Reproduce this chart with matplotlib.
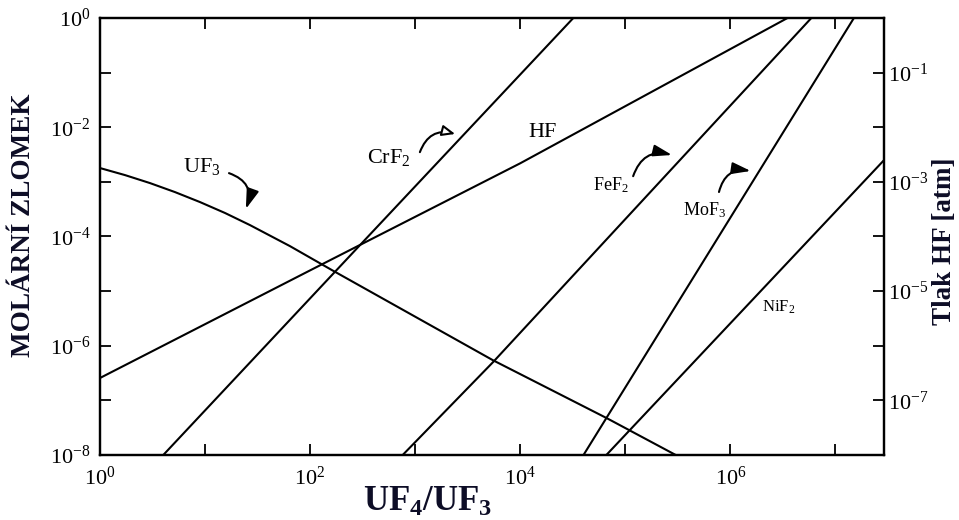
import numpy as np
import matplotlib.pyplot as plt

plt.rcParams['font.family'] = 'Liberation Serif'
plt.rcParams['mathtext.fontset'] = 'custom'
plt.rcParams['mathtext.rm'] = 'Liberation Serif'
plt.rcParams['mathtext.it'] = 'Liberation Serif:italic'
plt.rcParams['mathtext.bf'] = 'Liberation Serif:bold'

# mole fraction vs. UF4/UF3 ratio
uf3_x = [1, 1.73, 2.99, 5.17, 8.94, 15.5, 26.7, 64.2, 161, 5.48e3, 6.67e4, 3.02e5]
uf3_y = [1.79e-3, 1.33e-3, 9.5e-4, 6.5e-4, 4.27e-4, 2.69e-4, 1.62e-4, 6.67e-5,
         2.43e-5, 5.45e-7, 4.72e-8, 1e-8]

hf_x = [1, 100, 1e4, 3.5e6]
hf_y = [2.57e-7, 2.4e-5, 2.19e-3, 1.0]

crf2_x = [4.0, 282, 3.2e4]
crf2_y = [1e-8, 6.2e-5, 1.0]

fef2_x = [760, 5.5e3, 5.9e6]
fef2_y = [1e-8, 5.0e-7, 1.0]

mof3_x = [4.0e4, 1.5e7]
mof3_y = [1e-8, 1.0]

nif2_x = [6.6e4, 2.9e7]
nif2_y = [1e-8, 2.5e-3]

x_exp = np.arange(0, 8)
y_exp = np.arange(-8, 1)

fig = plt.figure(figsize=(9.59, 5.2), dpi=100)
ax = fig.add_axes([0.1043, 0.125, 0.8175, 0.8404])

for xs, ys in [(uf3_x, uf3_y), (hf_x, hf_y), (crf2_x, crf2_y),
               (fef2_x, fef2_y), (mof3_x, mof3_y), (nif2_x, nif2_y)]:
    ax.plot(xs, ys, color='black', lw=1.5, solid_capstyle='butt')

ax.set_xscale('log')
ax.set_yscale('log')
ax.set_xlim(1, 2.9e7)
ax.set_ylim(1e-8, 1)

ax.set_xticks(10.0 ** x_exp)
ax.set_xticklabels([r'$10^{%d}$' % e if e % 2 == 0 else '' for e in x_exp])
ax.set_yticks(10.0 ** y_exp)
ax.set_yticklabels([r'$10^{%d}$' % e if e % 2 == 0 else '' for e in y_exp])
ax.minorticks_off()
ax.tick_params(axis='x', which='both', direction='in', top=True, length=8,
               width=1.3, labelsize=16, pad=8)
ax.tick_params(axis='y', which='both', direction='in', length=8,
               width=1.3, labelsize=16, pad=7)

# pressure axis on the right
ax2 = ax.twinx()
ax2.set_yscale('log')
ax2.set_ylim(1e-8, 1)
ax2.set_yticks(10.0 ** y_exp)
ax2.set_yticklabels([r'$10^{%d}$' % e if e % 2 != 0 else '' for e in y_exp])
ax2.minorticks_off()
ax2.tick_params(axis='y', which='both', direction='in', length=8,
                width=1.3, labelsize=16, pad=3)

for a in (ax, ax2):
    for s in a.spines.values():
        s.set_linewidth(1.6)

# curve labels
ax.text(0.106, 0.648, r'UF$_3$', transform=ax.transAxes, fontsize=16, va='baseline')
ax.text(0.3406, 0.668, r'CrF$_2$', transform=ax.transAxes, fontsize=16, va='baseline')
ax.text(0.546, 0.7277, 'HF', transform=ax.transAxes, fontsize=16, va='baseline')
ax.text(0.629, 0.606, r'FeF$_2$', transform=ax.transAxes, fontsize=13, va='baseline')
ax.text(0.7436, 0.549, r'MoF$_3$', transform=ax.transAxes, fontsize=13, va='baseline')
ax.text(0.844, 0.327, r'NiF$_2$', transform=ax.transAxes, fontsize=12, va='baseline')

head = '-|>,head_length=0.8,head_width=0.25'
ax.annotate('', xy=(0.186, 0.563), xytext=(0.1645, 0.645), xycoords='axes fraction',
            arrowprops=dict(arrowstyle=head, connectionstyle='arc3,rad=-0.5',
                            color='black', lw=1.5, mutation_scale=15, shrinkA=0, shrinkB=0))
ax.annotate('', xy=(0.453, 0.7346), xytext=(0.408, 0.693), xycoords='axes fraction',
            arrowprops=dict(arrowstyle='-|>,head_length=0.6,head_width=0.25',
                            connectionstyle='arc3,rad=-0.45', ec='black', fc='white',
                            lw=1.5, mutation_scale=13, shrinkA=0, shrinkB=0))
ax.annotate('', xy=(0.7296, 0.6865), xytext=(0.680, 0.638), xycoords='axes fraction',
            arrowprops=dict(arrowstyle=head, connectionstyle='arc3,rad=-0.45',
                            color='black', lw=1.5, mutation_scale=14, shrinkA=0, shrinkB=0))
ax.annotate('', xy=(0.830, 0.650), xytext=(0.7895, 0.6018), xycoords='axes fraction',
            arrowprops=dict(arrowstyle=head, connectionstyle='arc3,rad=-0.45',
                            color='black', lw=1.5, mutation_scale=14, shrinkA=0, shrinkB=0))

# axis titles
lab_color = '#0d0d26'
fig.text(0.025, 0.567, 'MOLÁRNÍ ZLOMEK', rotation=90, ha='center', va='center',
         fontsize=19.5, fontweight='bold', color=lab_color)
fig.text(0.985, 0.537, 'Tlak HF [atm]', rotation=90, ha='center', va='center',
         fontsize=19.5, fontweight='bold', color=lab_color)
fig.text(0.446, 0.033, r'$\mathbf{UF_4/UF_3}$', ha='center', va='center',
         fontsize=25, color=lab_color)

fig.savefig('out.png', dpi=100)
